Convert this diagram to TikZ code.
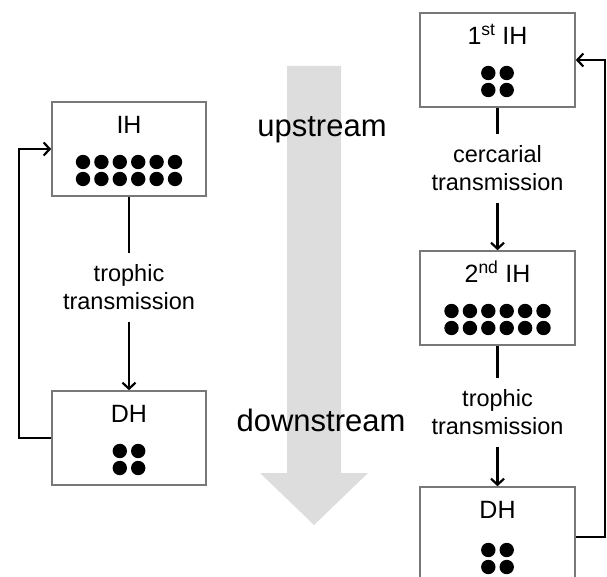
\documentclass[tikz,border=0pt]{standalone}
\usepackage{fontspec}
\setmainfont{Liberation Sans}
\usetikzlibrary{positioning,arrows.meta}
\definecolor{boxgray}{RGB}{120,120,120}
\definecolor{streamgray}{RGB}{221,221,221}
% two rows of parasite dots inside a host box
\newcommand{\hostdots}[2]{%
  \begin{scope}[shift={(#1.center)}]
    \foreach \r in {0,1}
      \foreach \c in {1,...,#2}
        \fill ({(\c-(#2+1)/2)*18.4},{13+17*\r}) circle (7.2pt);
  \end{scope}}

\begin{document}
\begin{tikzpicture}[x=1pt, y=-1pt,
    host/.style={draw=boxgray, line width=1.6pt, minimum width=154pt, minimum height=94pt, inner sep=0pt},
    hname/.style={font=\fontsize{25}{30}\selectfont, anchor=base, inner sep=0pt},
    route/.style={align=center, font=\fontsize{23.5}{28}\selectfont, minimum height=69pt, inner sep=0pt},
    stream/.style={font=\fontsize{31}{36}\selectfont, anchor=base, inner sep=0pt},
    link/.style={line width=2.2pt},
    flow/.style={line width=2.2pt, -{Straight Barb[length=6pt,width=13pt]}}]
  \useasboundingbox (0,0) rectangle (607,577);
  \fill[streamgray] (287,66) -- (341,66) -- (341,473) -- (368,473) -- (314,525)
    -- (260,473) -- (287,473) -- cycle;
  \node[stream] (up) at (322,137) {upstream};
  \node[stream] (down) at (321,431) {downstream};

  % one intermediate host
  \node[host] (ih) at (129,149) {};
  \node[route, below=56pt of ih] (tr) {trophic\\transmission};
  \node[host, below=68pt of tr] (dh) {};
  \node[hname] (ihl) at ([yshift=-32pt]ih.north) {IH};
  \node[hname] (dhl) at ([yshift=-32pt]dh.north) {DH};
  \hostdots{ih}{6}
  \hostdots{dh}{2}
  \draw[link] (ih) -- (tr);
  \draw[flow] (tr) -- (dh);
  \draw[flow] (dh.west) -- ++(-32,0) |- (ih.west);

  % two intermediate hosts
  \node[host, minimum width=155pt] (ih1) at (497.5,60) {};
  \node[route, below=26pt of ih1] (cc) {cercarial\\transmission};
  \node[host, minimum width=155pt, below=47pt of cc] (ih2) {};
  \node[route, below=32pt of ih2] (tr2) {trophic\\transmission};
  \node[host, minimum width=155pt, minimum height=100pt, below=39pt of tr2] (dh2) {};
  \node[hname] (ih1l) at ([yshift=-32pt]ih1.north) {1\textsuperscript{st} IH};
  \node[hname] (ih2l) at ([yshift=-32pt]ih2.north) {2\textsuperscript{nd} IH};
  \node[hname] (dh2l) at ([yshift=-32pt]dh2.north) {DH};
  \hostdots{ih1}{2}
  \hostdots{ih2}{6}
  \hostdots{dh2}{2}
  \draw[link] (ih1) -- (cc);
  \draw[flow] (cc) -- (ih2);
  \draw[link] (ih2) -- (tr2);
  \draw[flow] (tr2) -- (dh2);
  \draw[flow] (dh2.east) -- ++(29,0) |- (ih1.east);
\end{tikzpicture}
\end{document}
